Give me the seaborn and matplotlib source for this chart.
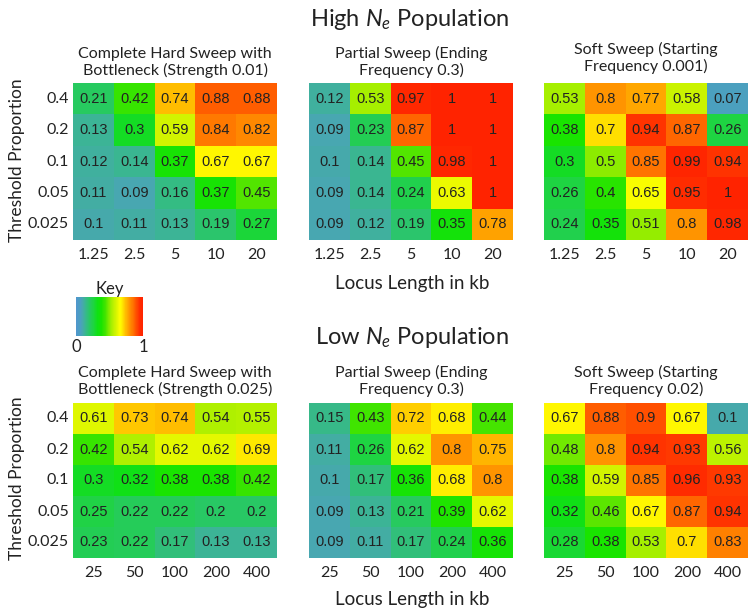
import numpy as np
import pandas as pd
import matplotlib
matplotlib.use("Agg")
import matplotlib.pyplot as plt
import seaborn as sns
from matplotlib.colors import LinearSegmentedColormap
from matplotlib.cm import ScalarMappable

# rows top -> bottom, columns left -> right
thresholds = ["0.4", "0.2", "0.1", "0.05", "0.025"]
lengths_high = ["1.25", "2.5", "5", "10", "20"]
lengths_low = ["25", "50", "100", "200", "400"]

hard_high = [[0.21, 0.42, 0.74, 0.88, 0.88],
             [0.13, 0.3, 0.59, 0.84, 0.82],
             [0.12, 0.14, 0.37, 0.67, 0.67],
             [0.11, 0.09, 0.16, 0.37, 0.45],
             [0.1, 0.11, 0.13, 0.19, 0.27]]
partial_high = [[0.12, 0.53, 0.97, 1, 1],
                [0.09, 0.23, 0.87, 1, 1],
                [0.1, 0.14, 0.45, 0.98, 1],
                [0.09, 0.14, 0.24, 0.63, 1],
                [0.09, 0.12, 0.19, 0.35, 0.78]]
soft_high = [[0.53, 0.8, 0.77, 0.58, 0.07],
             [0.38, 0.7, 0.94, 0.87, 0.26],
             [0.3, 0.5, 0.85, 0.99, 0.94],
             [0.26, 0.4, 0.65, 0.95, 1],
             [0.24, 0.35, 0.51, 0.8, 0.98]]

hard_low = [[0.61, 0.73, 0.74, 0.54, 0.55],
            [0.42, 0.54, 0.62, 0.62, 0.69],
            [0.3, 0.32, 0.38, 0.38, 0.42],
            [0.25, 0.22, 0.22, 0.2, 0.2],
            [0.23, 0.22, 0.17, 0.13, 0.13]]
partial_low = [[0.15, 0.43, 0.72, 0.68, 0.44],
               [0.11, 0.26, 0.62, 0.8, 0.75],
               [0.1, 0.17, 0.36, 0.68, 0.8],
               [0.09, 0.13, 0.21, 0.39, 0.62],
               [0.09, 0.11, 0.17, 0.24, 0.36]]
soft_low = [[0.67, 0.88, 0.9, 0.67, 0.1],
            [0.48, 0.8, 0.94, 0.93, 0.56],
            [0.38, 0.59, 0.85, 0.96, 0.93],
            [0.32, 0.46, 0.67, 0.87, 0.94],
            [0.28, 0.38, 0.53, 0.7, 0.83]]

titles_high = ["Complete Hard Sweep with\nBottleneck (Strength 0.01)",
               "Partial Sweep (Ending\nFrequency 0.3)",
               "Soft Sweep (Starting\nFrequency 0.001)"]
titles_low = ["Complete Hard Sweep with\nBottleneck (Strength 0.025)",
              "Partial Sweep (Ending\nFrequency 0.3)",
              "Soft Sweep (Starting\nFrequency 0.02)"]

# blue -> green -> yellow -> orange -> red key
stops = [(0.0, (80, 150, 205)), (0.07, (75, 160, 190)), (0.10, (70, 170, 170)),
         (0.13, (60, 180, 150)), (0.20, (40, 200, 100)), (0.26, (30, 212, 65)),
         (0.32, (15, 225, 20)), (0.38, (25, 228, 0)), (0.44, (70, 228, 0)),
         (0.52, (160, 238, 0)), (0.60, (215, 245, 0)), (0.66, (255, 255, 0)),
         (0.70, (255, 225, 0)), (0.74, (255, 190, 0)), (0.80, (255, 148, 0)),
         (0.86, (255, 110, 0)), (0.90, (255, 80, 0)), (0.95, (255, 45, 0)),
         (1.0, (255, 35, 0))]
cmap = LinearSegmentedColormap.from_list(
    "key", [(p, tuple(c / 255 for c in rgb)) for p, rgb in stops])

sns.set_theme(style="white")
plt.rcParams["font.family"] = ["Lato", "DejaVu Sans"]
plt.rcParams["mathtext.fontset"] = "custom"
plt.rcParams["mathtext.rm"] = "Lato"
plt.rcParams["mathtext.it"] = "Lato:italic"
txt = "#222222"

fig = plt.figure(figsize=(7.54, 6.16), dpi=100)

lefts = [73 / 754, 309 / 754, 544 / 754]
width = 204 / 754


def draw_row(datasets, titles, xlabels, bottom, height, title_pads):
    for i, (d, t) in enumerate(zip(datasets, titles)):
        ax = fig.add_axes([lefts[i], bottom, width, height])
        df = pd.DataFrame(d, index=thresholds, columns=xlabels)
        sns.heatmap(df, ax=ax, cmap=cmap, vmin=0, vmax=1, cbar=False,
                    annot=True, fmt="g",
                    annot_kws={"fontsize": 10.5, "color": txt,
                               "family": "Liberation Sans"})
        ax.set_title(t, fontsize=11.5, color=txt, pad=title_pads[i],
                     linespacing=1.15)
        ax.tick_params(length=0, labelsize=11.5, colors=txt)
        ax.tick_params(axis="x", pad=6)
        ax.tick_params(axis="y", pad=3)
        ax.set_yticklabels(thresholds, rotation=0)
        ax.set_xticklabels(xlabels, rotation=0)
        if i > 0:
            ax.set_yticklabels([])


draw_row([hard_high, partial_high, soft_high], titles_high, lengths_high,
         1 - 240 / 616, 157 / 616, [6, 6, 9])
draw_row([hard_low, partial_low, soft_low], titles_low, lengths_low,
         1 - 558 / 616, 155 / 616, [6.5, 6.5, 6.5])

fig.text(410 / 754, 1 - 20 / 616, r"High $N_e$ Population", ha="center",
         va="center", fontsize=17, color=txt)
fig.text(412 / 754, 1 - 337 / 616, r"Low $N_e$ Population", ha="center",
         va="center", fontsize=17, color=txt)
for y in [284, 599]:
    fig.text(412 / 754, 1 - y / 616, "Locus Length in kb", ha="center",
             va="center", fontsize=13.5, color=txt)
for y in [160, 478]:
    fig.text(17 / 754, 1 - y / 616, "Threshold Proportion", ha="center",
             va="center", rotation=90, fontsize=12.5, color=txt)

# key
kax = fig.add_axes([76 / 754, 1 - 336 / 616, 67 / 754, 39 / 616])
cb = fig.colorbar(ScalarMappable(cmap=cmap), cax=kax, orientation="horizontal",
                  ticks=[0, 1])
cb.outline.set_visible(False)
kax.tick_params(length=0, labelsize=12, colors=txt, pad=2)
kax.set_title("Key", fontsize=12, color=txt, pad=2)

fig.savefig("out.png", dpi=100)
